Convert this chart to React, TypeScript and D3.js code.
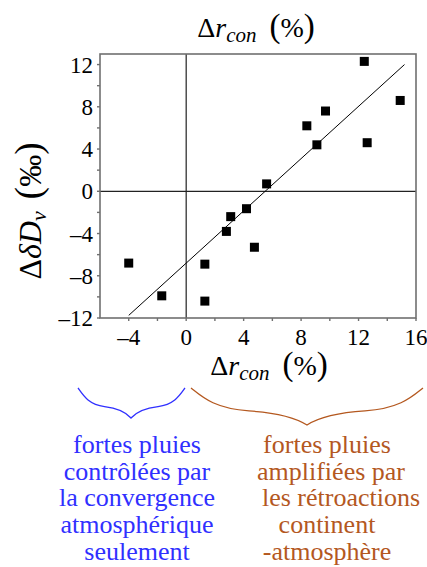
import React, { useEffect, useRef } from "react";
import * as d3 from "d3";

// ---- data ----
const ptX = [12.4, 14.9, 9.7, 8.4, 9.1, 12.6, 5.6, 4.2, 3.1, 2.8, 4.75, 1.3, -4.0, -1.7, 1.3];
const ptY = [12.3, 8.6, 7.6, 6.2, 4.4, 4.6, 0.7, -1.65, -2.4, -3.8, -5.3, -6.9, -6.8, -9.9, -10.4];
const fitX = [-4.0, 15.2];
const fitY = [-11.75, 12.0];
const xTicks = [-4, 0, 4, 8, 12, 16];
const yTicks = [-12, -8, -4, 0, 4, 8, 12];
const xMinor = [-4, -2, 0, 2, 4, 6, 8, 10, 12, 14, 16];
const yMinor = [-12, -10, -8, -6, -4, -2, 0, 2, 4, 6, 8, 10, 12];
const blueLines = ["fortes pluies", "contrôlées par", "la convergence", "atmosphérique", "seulement"];
const orangeLines = ["fortes pluies", "amplifiées par", "les rétroactions", "continent", "-atmosphère"];
const orangeCenters = [327, 331, 341, 327, 327];

const BLUE = "#3030ff";
const ORANGE = "#b4581f";
const FRAME = "#707070";
const fontParts = ["Liberation", "Serif"];

function bracePath(x1: number, xt: number, x2: number, y0: number, yt: number) {
  const p = d3.path();
  const h1 = xt - x1;
  const h2 = x2 - xt;
  const d = yt - y0;
  p.moveTo(x1, y0);
  p.bezierCurveTo(x1 + 0.1 * h1, y0 + 0.25 * d, x1 + 0.2 * h1, y0 + 0.55 * d, x1 + 0.5 * h1, y0 + 0.62 * d);
  p.bezierCurveTo(x1 + 0.75 * h1, y0 + 0.67 * d, x1 + 0.9 * h1, y0 + 0.8 * d, xt, yt);
  p.bezierCurveTo(x2 - 0.9 * h2, y0 + 0.8 * d, x2 - 0.75 * h2, y0 + 0.67 * d, x2 - 0.5 * h2, y0 + 0.62 * d);
  p.bezierCurveTo(x2 - 0.2 * h2, y0 + 0.55 * d, x2 - 0.1 * h2, y0 + 0.25 * d, x2, y0);
  return p.toString();
}

export default function App() {
  const ref = useRef<SVGSVGElement>(null);
  const fam = `"${fontParts.join(" ")}"`;
  const FS = { fontFamily: fam };

  useEffect(() => {
    if (ref.current) d3.select(ref.current).selectAll("text").style("font-family", fam);
  }, [fam]);

  const x = d3.scaleLinear().domain([-6, 16]).range([100, 416]);
  const y = d3.scaleLinear().domain([-12, 13]).range([318, 54]);
  const line = d3
    .line<number>()
    .x((_, i) => x(fitX[i]))
    .y((_, i) => y(fitY[i]));
  const sq = 9;

  const axisTitle = (cx: number, cy: number) => (
    <text x={cx} y={cy} textAnchor="middle" fontSize={28} fill="#000" style={FS}>
      <tspan>Δ</tspan>
      <tspan fontStyle="italic">r</tspan>
      <tspan fontStyle="italic" fontSize={21} dy={5}>con</tspan>
      <tspan dy={-5} dx={13} fontSize={33}>(</tspan>
      <tspan>%</tspan>
      <tspan fontSize={33}>)</tspan>
    </text>
  );

  return (
    <svg ref={ref} width={427} height={567} style={{ position: "absolute", left: 0, top: 0, background: "#fff" }}>
      <rect x={0} y={0} width={427} height={567} fill="#fff" />

      {axisTitle(256, 37)}

      {/* zero lines */}
      <line x1={x(0)} x2={x(0)} y1={y(13)} y2={y(-12)} stroke="#222" strokeWidth={1.2} />
      <line x1={x(-6)} x2={x(16)} y1={y(0)} y2={y(0)} stroke="#222" strokeWidth={1.2} />

      {/* regression line */}
      <path d={line(fitX) || ""} fill="none" stroke="#000" strokeWidth={1} />

      {/* points */}
      {ptX.map((v, i) => (
        <rect key={i} x={x(v) - sq / 2} y={y(ptY[i]) - sq / 2} width={sq} height={sq} fill="#000" />
      ))}

      {/* frame */}
      <rect x={x(-6)} y={y(13)} width={x(16) - x(-6)} height={y(-12) - y(13)} fill="none" stroke={FRAME} strokeWidth={1.6} />

      {/* ticks */}
      {xMinor.map((t) => (
        <line key={"xm" + t} x1={x(t)} x2={x(t)} y1={y(-12)} y2={y(-12) + 3} stroke={FRAME} strokeWidth={1.4} />
      ))}
      {yMinor.map((t) => (
        <line key={"ym" + t} x1={x(-6)} x2={x(-6) - 3} y1={y(t)} y2={y(t)} stroke={FRAME} strokeWidth={1.4} />
      ))}
      {xTicks.map((t) => (
        <text key={"xt" + t} x={x(t)} y={345} textAnchor="middle" fontSize={23} fill="#000" style={FS}>
          {t < 0 ? "\u2013" + Math.abs(t) : String(t)}
        </text>
      ))}
      {yTicks.map((t) => (
        <text key={"yt" + t} x={93} y={y(t) + 8} textAnchor="end" fontSize={23} fill="#000" style={FS}>
          {t < 0 ? "\u2013" + Math.abs(t) : String(t)}
        </text>
      ))}

      {axisTitle(269, 375)}

      {/* y axis label */}
      <text transform="translate(41,211) rotate(-90)" textAnchor="middle" fontSize={32} fill="#000" style={FS}>
        <tspan>Δ</tspan>
        <tspan fontStyle="italic">δD</tspan>
        <tspan fontStyle="italic" fontSize={22} dy={5}>v</tspan>
        <tspan dy={-5} dx={12} fontSize={37}>(</tspan>
        <tspan>‰</tspan>
        <tspan fontSize={37}>)</tspan>
      </text>

      {/* braces */}
      <path d={bracePath(78, 131, 185, 388, 418)} fill="none" stroke={BLUE} strokeWidth={1.3} />
      <path d={bracePath(191, 307, 423, 388, 425)} fill="none" stroke={ORANGE} strokeWidth={1.3} />

      {/* annotations */}
      {blueLines.map((s, i) => (
        <text key={"b" + i} x={137} y={453 + i * 26.7} textAnchor="middle" fontSize={26} fill={BLUE} style={FS}>
          {s}
        </text>
      ))}
      {orangeLines.map((s, i) => (
        <text key={"o" + i} x={orangeCenters[i]} y={453 + i * 26.7} textAnchor="middle" fontSize={26} fill={ORANGE} style={FS}>
          {s}
        </text>
      ))}
    </svg>
  );
}
